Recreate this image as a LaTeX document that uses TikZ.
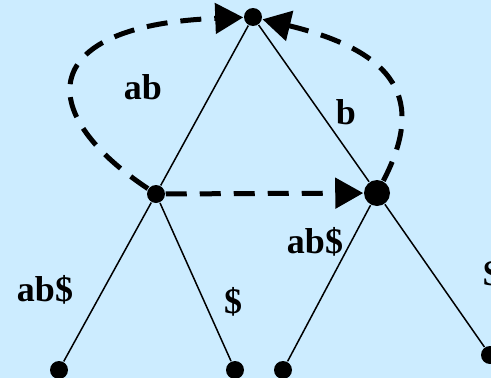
\documentclass[tikz,border=0pt]{standalone}
\usepackage{fontspec}
\setmainfont{Liberation Serif}
\usetikzlibrary{arrows.meta}
\definecolor{sky}{RGB}{204,236,255}
\definecolor{ink}{RGB}{0,0,0}
\tikzset{
  every picture/.style={color=ink, line width=1.5pt},
  dot/.style={circle, fill=ink, inner sep=0pt, minimum size=18pt},
  bigdot/.style={dot, minimum size=26pt},
  edge/.style={line width=1.5pt},
  link/.style={-{Triangle[length=28pt,width=30pt]}, line width=5pt, dash pattern=on 21pt off 13pt},
  lbl/.style={font=\fontsize{36}{42}\selectfont\bfseries, inner sep=0pt},
}

\begin{document}
\begin{tikzpicture}[x=1pt, y=-1pt]
  \fill[sky] (0,0) rectangle (491,378);
  \useasboundingbox (0,0) rectangle (491,378);
  \clip (0,0) rectangle (491,378);
  % tree
  \node[dot] (root) at (253,17) {};
  \node[dot] (u) at (156,194) {};
  \node[bigdot] (v) at (377,193) {};
  \node[dot] (l1) at (59,370) {};
  \node[dot] (l2) at (235,370) {};
  \node[dot] (l3) at (283,370) {};
  \node[dot] (l4) at (490,355) {};
  \draw[edge] (root) -- (u);
  \draw[edge] (root) -- (v);
  \draw[edge] (u) -- (l1);
  \draw[edge] (u) -- (l2);
  \draw[edge] (v) -- (l3);
  \draw[edge] (v) -- (l4);
  % suffix links
  \draw[link] (u) .. controls (30,110) and (40,25) .. (root);
  \draw[link] (v) .. controls (420,110) and (410,55) .. (root);
  \draw[link] (u) -- (v);
  % labels
  \node[lbl] (tab) at (143,87) {ab};
  \node[lbl] (tb) at (346,112) {b};
  \node[lbl] (tab2) at (315,242) {ab\$};
  \node[lbl] (tab1) at (45,290) {ab\$};
  \node[lbl] (td1) at (233,302) {\$};
  \node[lbl] (td2) at (492,274) {\$};
\end{tikzpicture}
\end{document}
